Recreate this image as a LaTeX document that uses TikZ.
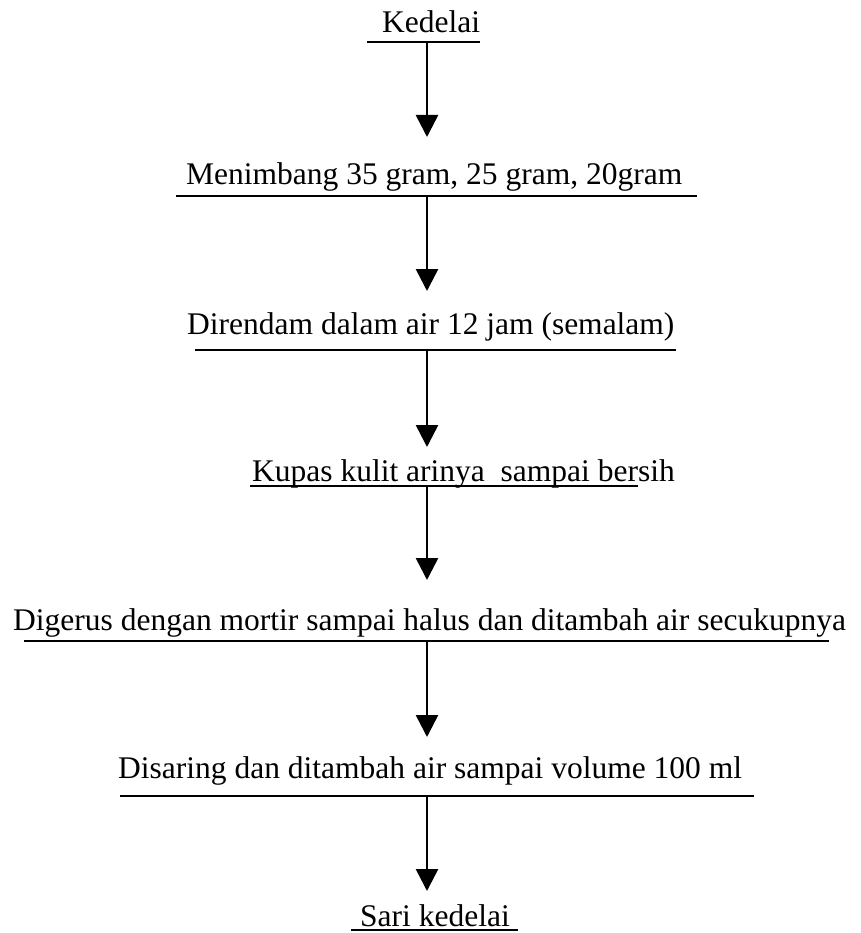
\documentclass[tikz,border=0pt]{standalone}
\usepackage{fontspec}
\setmainfont{Liberation Serif}
\usetikzlibrary{arrows.meta}

\begin{document}
\begin{tikzpicture}[x=1pt, y=-1pt,
                    stepnode/.style={
            		inner sep=0pt,
            		anchor=base west,
			font=\fontsize{31.5}{36}\selectfont,
            	},
		uline/.style={line width=2.4pt},
		flow/.style={line width=2.6pt, -{Triangle[width=22pt,length=22pt]}},
		]

\useasboundingbox (0,0) rectangle (860,933);

\draw 
(382,33) node[stepnode] (kedelai) {Kedelai}
(186,185) node[stepnode] (menimbang) {Menimbang 35 gram, 25 gram, 20gram}
(187,334) node[stepnode] (direndam) {Direndam dalam air 12 jam (semalam)}
(252,481) node[stepnode] (kupas) {Kupas kulit arinya~ sampai bersih}
(13,630) node[stepnode] (digerus) {Digerus dengan mortir sampai halus dan ditambah air secukupnya}
(118,778) node[stepnode] (disaring) {Disaring dan ditambah air sampai volume 100 ml}
(360,926) node[stepnode] (sari) {Sari kedelai}
(427,42) coordinate[](kedelai_out) {}
(427,196) coordinate[](menimbang_out) {}
(427,350) coordinate[](direndam_out) {}
(427,486) coordinate[](kupas_out) {}
(427,641) coordinate[](digerus_out) {}
(427,796) coordinate[](disaring_out) {}
(427,137) coordinate[](menimbang_in) {}
(427,291) coordinate[](direndam_in) {}
(427,447) coordinate[](kupas_in) {}
(427,580) coordinate[](digerus_in) {}
(427,737) coordinate[](disaring_in) {}
(427,891) coordinate[](sari_in) {}
;

% garis bawah
\draw[uline] (367,42) -- (480,42);
\draw[uline] (176,196) -- (697,196);
\draw[uline] (195,350) -- (676,350);
\draw[uline] (250,486) -- (638,486);
\draw[uline] (24,641) -- (829,641);
\draw[uline] (120,796) -- (754,796);
\draw[uline] (351,930) -- (518,930);

% panah
\draw[flow] (kedelai_out) -- (menimbang_in);
\draw[flow] (menimbang_out) -- (direndam_in);
\draw[flow] (direndam_out) -- (kupas_in);
\draw[flow] (kupas_out) -- (digerus_in);
\draw[flow] (digerus_out) -- (disaring_in);
\draw[flow] (disaring_out) -- (sari_in);

\end{tikzpicture}
\end{document}
